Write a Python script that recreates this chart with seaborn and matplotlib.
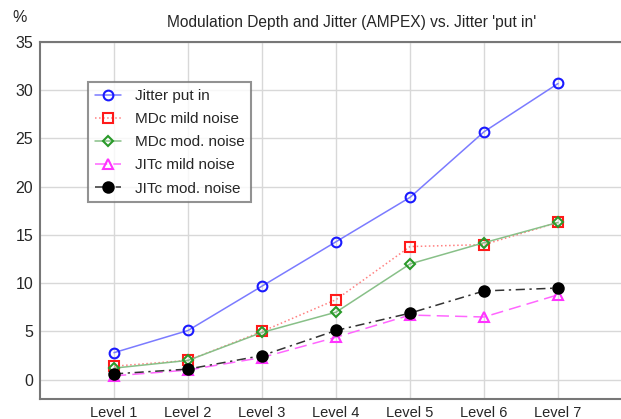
import matplotlib
matplotlib.use("Agg")
import matplotlib.pyplot as plt
import seaborn as sns
import pandas as pd
import numpy as np

levels = ["Level 1", "Level 2", "Level 3", "Level 4", "Level 5", "Level 6", "Level 7"]
jitter_put_in = [2.8, 5.1, 9.7, 14.3, 18.9, 25.7, 30.7]
mdc_mild = [1.4, 2.0, 5.0, 8.3, 13.8, 14.0, 16.3]
mdc_mod = [1.2, 2.0, 4.9, 7.0, 12.0, 14.2, 16.3]
jitc_mild = [0.4, 1.0, 2.3, 4.4, 6.7, 6.5, 8.8]
jitc_mod = [0.6, 1.1, 2.5, 5.1, 6.9, 9.2, 9.5]
y_ticks = [0, 5, 10, 15, 20, 25, 30, 35]

sns.set_theme(style="white")
plt.rcParams['font.family'] = ['Liberation Sans', 'DejaVu Sans']

fig = plt.figure(figsize=(6.21, 4.19), dpi=100)
ax = fig.add_axes([40/621, 1-399/419, 1-40/621, (399-42)/419])

xpos = np.arange(1, len(levels) + 1)
series = [
    ("Jitter put in", jitter_put_in, "#7b7bff", "#1a1aff", "o", "-", "none", 7),
    ("MDc mild noise", mdc_mild, "#ff8080", "#ff1a1a", "s", ":", "none", 7),
    ("MDc mod. noise", mdc_mod, "#88c088", "#2a9a2a", "D", "-", "none", 5.5),
    ("JITc mild noise", jitc_mild, "#ff66ff", "#ff33ff", "^", (0, (8, 4)), "none", 7.5),
    ("JITc mod. noise", jitc_mod, "#333333", "#000000", "o", (0, (6, 3, 1.5, 3)), "#000000", 7.5),
]
for name, vals, lc, mc, mk, ls, mfc, ms in series:
    df = pd.DataFrame({"x": xpos, "y": vals})
    sns.lineplot(data=df, x="x", y="y", ax=ax, color=lc, linestyle=ls, linewidth=1.1,
                 marker=mk, markersize=ms, markeredgecolor=mc,
                 markerfacecolor=mfc if mfc != "none" else "white", markeredgewidth=1.5,
                 label=name)
    if mfc == "none":
        ax.lines[-1].set_markerfacecolor("none")

ax.set_xlim(0, 7.85)
ax.set_ylim(-2, 35)
ax.set_xticks(xpos)
ax.set_xticklabels(levels, fontsize=10.5)
ax.set_yticks(y_ticks)
ax.set_yticklabels([str(t) for t in y_ticks], fontsize=11.5)
ax.set_xlabel("")
ax.set_ylabel("")
ax.grid(True, color="#d8d8d8", linewidth=1)
ax.set_axisbelow(True)
for s in ["left", "bottom", "top"]:
    ax.spines[s].set_color("#777777")
    ax.spines[s].set_linewidth(1.5)
ax.spines["right"].set_visible(False)
ax.tick_params(axis="both", length=3, direction="in", color="#777777", pad=5)

fig.text(352/621, 1-22/419, "Modulation Depth and Jitter (AMPEX) vs. Jitter 'put in'",
         ha="center", va="center", fontsize=11.2)
fig.text(12/621, 1-18/419, "%", ha="left", va="center", fontsize=11.5)

leg = ax.legend(loc="upper left", bbox_to_anchor=((88-40)/581, (399-82)/357),
                frameon=True, fancybox=False, fontsize=11, borderpad=0.45,
                handlelength=1.7, handletextpad=0.9, labelspacing=0.6, borderaxespad=0)
leg.get_frame().set_edgecolor("#777777")
leg.get_frame().set_linewidth(1.5)

fig.savefig("out.png", dpi=100)
